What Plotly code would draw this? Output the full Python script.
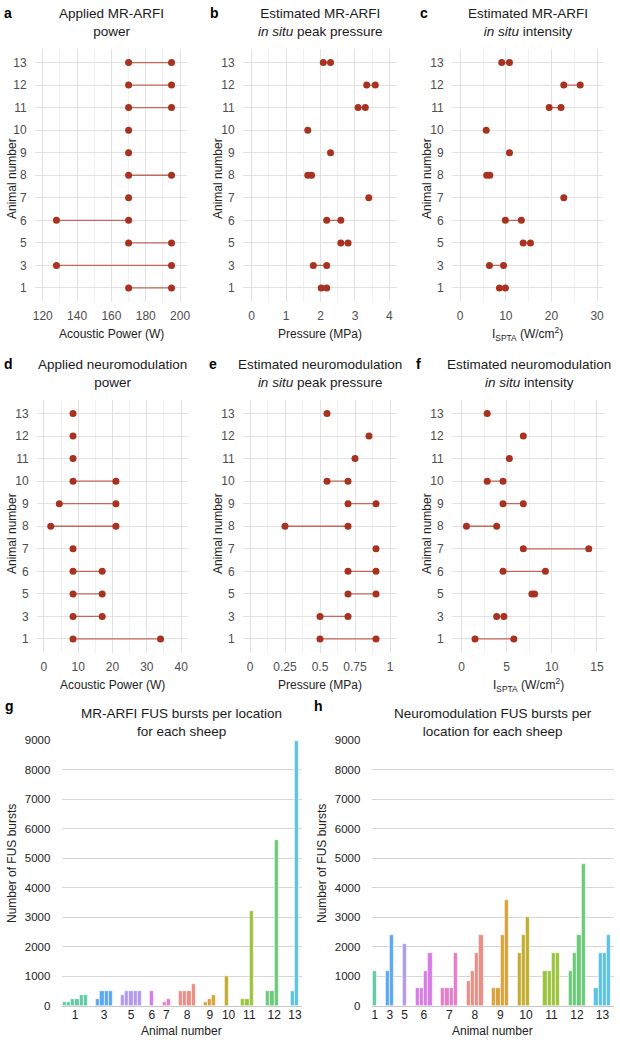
import plotly.graph_objects as go

W, H = 620, 1040
FONT = "Liberation Sans, Arial, Helvetica, sans-serif"

animals = ["1", "3", "5", "6", "7", "8", "9", "10", "11", "12", "13"]

# ---- panels a-f: per-animal values (one or two levels) ----
arfi_power = [[170, 195], [128, 195], [170, 195], [128, 170], [170], [170, 195],
              [170], [170], [170, 195], [170, 195], [170, 195]]
arfi_pressure = [[2.02, 2.18], [1.79, 2.18], [2.59, 2.80], [2.18, 2.59], [3.40], [1.63, 1.74],
                 [2.29], [1.63], [3.09, 3.30], [3.34, 3.59], [2.08, 2.29]]
arfi_intensity = [[8.6, 9.9], [6.4, 9.5], [13.8, 15.4], [9.9, 13.4], [22.7], [5.8, 6.5],
                  [10.8], [5.7], [19.5, 22.1], [22.7, 26.3], [9.1, 10.8]]
neuro_power = [[8.5, 34], [8.5, 17], [8.5, 17], [8.5, 17], [8.5], [2, 21],
               [4.5, 21], [8.5, 21], [8.5], [8.5], [8.5]]
neuro_pressure = [[0.5, 0.9], [0.5, 0.7], [0.7, 0.9], [0.7, 0.9], [0.9], [0.25, 0.7],
                  [0.7, 0.9], [0.55, 0.7], [0.75], [0.85], [0.55]]
neuro_intensity = [[1.5, 5.8], [3.9, 4.7], [7.8, 8.1], [4.6, 9.3], [6.85, 14.1], [0.55, 3.9],
                   [4.6, 6.85], [2.85, 4.6], [5.3], [6.85], [2.85]]

# tick labels
ticks_a = [120, 140, 160, 180, 200]
ticks_b = [0, 1, 2, 3, 4]
ticks_c = [0, 10, 20, 30]
ticks_d = [0, 10, 20, 30, 40]
ticks_e = [0, 0.25, 0.5, 0.75, 1]
ticks_e_text = ["0", "0.25", "0.5", "0.75", "1"]
ticks_f = [0, 5, 10, 15]
ticks_bars = [0, 1000, 2000, 3000, 4000, 5000, 6000, 7000, 8000, 9000]

# ---- panels g-h: bursts per location for each sheep ----
arfi_bursts = [[125, 125, 250, 250, 375, 375], [250, 500, 500, 500], [375, 500, 500, 500, 500],
               [500], [125, 250], [500, 500, 500, 750], [125, 250, 375], [1000, 0],
               [250, 250, 3200, 0], [500, 500, 5625, 0], [500, 8960]]
neuro_bursts = [[1200], [1200, 2400], [2100], [600, 600, 1200, 1800], [600, 600, 600, 1800],
                [840, 1200, 1800, 2400], [600, 600, 2400, 3600], [1800, 2400, 3000, 0],
                [1200, 1200, 1800, 1800], [1200, 1800, 2400, 4800], [600, 1800, 1800, 2400]]

bar_colors = ["#63c9a6", "#5aa9f2", "#b39af0", "#d67ee6", "#e77cc9", "#e98f86",
              "#d9a33c", "#c3ad33", "#9cc43f", "#6dca7c", "#5cc3e3"]

PT = "#a8321f"
LN = "#c0685a"
GRID = "#e2e2e2"
GRID_MINOR = "#f0f0f0"
TICK = "#4d4d4d"


def px(x):
    return x / W


def py(y):
    return 1 - y / H


fig = go.Figure()
annotations = []
layout = {}

scatter_panels = [
    dict(data=arfi_power, letter="a", title="Applied MR-ARFI<br>power", xt="Acoustic Power (W)",
         box=(35, 187, 49, 301.5), rng=[115.5, 204], tv=ticks_a, tt=None, minor=10, lx=8, yx=12, yc=179),
    dict(data=arfi_pressure, letter="b", title="Estimated MR-ARFI<br><i>in situ</i> peak pressure",
         xt="Pressure (MPa)", box=(243, 397, 49, 301.5), rng=[-0.25, 4.22], tv=ticks_b, tt=None,
         minor=0.5, lx=214, yx=218, yc=179),
    dict(data=arfi_intensity, letter="c", title="Estimated MR-ARFI<br><i>in situ</i> intensity",
         xt="I<sub>SPTA</sub> (W/cm<sup>2</sup>)", box=(452, 603, 49, 301.5), rng=[-1.8, 31.3],
         tv=ticks_c, tt=None, minor=5, lx=424, yx=427, yc=179),
    dict(data=neuro_power, letter="d", title="Applied neuromodulation<br>power", xt="Acoustic Power (W)",
         box=(37, 188, 400, 652.5), rng=[-2, 42], tv=ticks_d, tt=None, minor=5, lx=8, yx=12, yc=534),
    dict(data=neuro_pressure, letter="e", title="Estimated neuromodulation<br><i>in situ</i> peak pressure",
         xt="Pressure (MPa)", box=(243, 397, 400, 652.5), rng=[-0.05, 1.05], tv=ticks_e, tt=ticks_e_text,
         minor=0.125, lx=213, yx=218, yc=534),
    dict(data=neuro_intensity, letter="f", title="Estimated neuromodulation<br><i>in situ</i> intensity",
         xt="I<sub>SPTA</sub> (W/cm<sup>2</sup>)", box=(452, 605, 400, 652.5), rng=[-1.05, 15.9],
         tv=ticks_f, tt=None, minor=2.5, lx=418, yx=427, yc=534),
]

for i, p in enumerate(scatter_panels):
    n = i + 1
    xa = "x" if n == 1 else f"x{n}"
    ya = "y" if n == 1 else f"y{n}"
    x0, x1, y0, y1 = p["box"]
    # connecting segments
    lx, ly = [], []
    for a, vals in zip(animals, p["data"]):
        lx += [min(vals), max(vals), None]
        ly += [a, a, None]
    fig.add_trace(go.Scatter(x=lx, y=ly, mode="lines", line=dict(color=LN, width=1.3),
                             xaxis=xa, yaxis=ya, hoverinfo="skip", showlegend=False))
    sx, sy = [], []
    for a, vals in zip(animals, p["data"]):
        for v in vals:
            sx.append(v)
            sy.append(a)
    fig.add_trace(go.Scatter(x=sx, y=sy, mode="markers", marker=dict(color=PT, size=7),
                             xaxis=xa, yaxis=ya, showlegend=False))
    xkey = "xaxis" if n == 1 else f"xaxis{n}"
    ykey = "yaxis" if n == 1 else f"yaxis{n}"
    xax = dict(domain=[px(x0), px(x1)], anchor=ya, range=p["rng"], tickmode="array", tickvals=p["tv"],
               showgrid=True, gridcolor=GRID, gridwidth=1, zeroline=False, showline=False, automargin=False,
               tickfont=dict(size=12, color=TICK, family=FONT), ticks="outside", ticklen=3,
               tickcolor="rgba(0,0,0,0)",
               minor=dict(dtick=p["minor"], tick0=0, showgrid=True, gridcolor=GRID_MINOR, gridwidth=1))
    if p["tt"] is not None:
        xax["ticktext"] = p["tt"]
    layout[xkey] = xax
    layout[ykey] = dict(domain=[py(y1), py(y0)], anchor=xa, type="category", categoryorder="array",
                        categoryarray=animals, range=[-0.6, 10.6], showgrid=True, gridcolor=GRID,
                        gridwidth=1, zeroline=False, showline=False, automargin=False,
                        tickfont=dict(size=12, color=TICK, family=FONT), ticks="outside", ticklen=5,
                        tickcolor="rgba(0,0,0,0)")
    cx = (x0 + x1) / 2
    annotations.append(dict(x=px(cx), y=py(y0 - 27), xref="paper", yref="paper", text=p["title"],
                            showarrow=False, xanchor="center", yanchor="middle",
                            font=dict(size=13.5, color="#1a1a1a", family=FONT)))
    annotations.append(dict(x=px(p["lx"]), y=py(y0 - 36), xref="paper", yref="paper",
                            text="<b>" + p["letter"] + "</b>", showarrow=False, xanchor="center",
                            yanchor="middle", font=dict(size=14, color="black", family=FONT)))
    annotations.append(dict(x=px(cx), y=py(y1 + 32), xref="paper", yref="paper", text=p["xt"],
                            showarrow=False, xanchor="center", yanchor="middle",
                            font=dict(size=12, color="#222", family=FONT)))
    annotations.append(dict(x=px(p["yx"]), y=py(p["yc"]), xref="paper", yref="paper", text="Animal number",
                            showarrow=False, xanchor="center", yanchor="middle", textangle=-90,
                            font=dict(size=12, color="#222", family=FONT)))

# ---- bar panels ----
bar_panels = [
    dict(data=arfi_bursts, letter="g", title="MR-ARFI FUS bursts per location<br>for each sheep",
         box=(61.7, 302, 740, 1006), lx=9, yx=12, gap=2),
    dict(data=neuro_bursts, letter="h", title="Neuromodulation FUS bursts per<br>location for each sheep",
         box=(371.7, 614, 740, 1006), lx=318, yx=322, gap=2),
]

for j, p in enumerate(bar_panels):
    n = 7 + j
    xa, ya = f"x{n}", f"y{n}"
    x0, x1, y0, y1 = p["box"]
    pos = 0
    centers = []
    for k, vals in enumerate(p["data"]):
        xs = list(range(pos, pos + len(vals)))
        centers.append((xs[0] + xs[-1]) / 2)
        fig.add_trace(go.Bar(x=xs, y=vals, width=1, marker=dict(color=bar_colors[k],
                                                                line=dict(color="white", width=0.6)),
                             xaxis=xa, yaxis=ya, showlegend=False))
        pos += len(vals) + p["gap"]
    last = pos - p["gap"] - 1
    layout[f"xaxis{n}"] = dict(domain=[px(x0), px(x1)], anchor=ya, range=[-0.75, last + 1.2],
                               tickmode="array", tickvals=centers, ticktext=animals, showgrid=False,
                               zeroline=False, showline=False, ticks="", automargin=False,
                               tickfont=dict(size=12, color="#222", family=FONT))
    layout[f"yaxis{n}"] = dict(domain=[py(y1), py(y0)], anchor=xa, range=[0, 9000], tickmode="array",
                               tickvals=ticks_bars, showgrid=True, gridcolor="#d6d6d6", gridwidth=1,
                               zeroline=True, zerolinecolor="#c8c8c8", zerolinewidth=1, showline=False,
                               ticks="outside", ticklen=8, tickcolor="rgba(0,0,0,0)", automargin=False,
                               tickfont=dict(size=11.5, color="#222", family=FONT))
    cx = (x0 + x1) / 2
    annotations.append(dict(x=px(cx), y=py(722), xref="paper", yref="paper", text=p["title"],
                            showarrow=False, xanchor="center", yanchor="middle",
                            font=dict(size=13.5, color="#1a1a1a", family=FONT)))
    annotations.append(dict(x=px(p["lx"]), y=py(706), xref="paper", yref="paper",
                            text="<b>" + p["letter"] + "</b>", showarrow=False, xanchor="center",
                            yanchor="middle", font=dict(size=14, color="black", family=FONT)))
    annotations.append(dict(x=px(cx), y=py(1031), xref="paper", yref="paper", text="Animal number",
                            showarrow=False, xanchor="center", yanchor="middle",
                            font=dict(size=12, color="#222", family=FONT)))
    annotations.append(dict(x=px(p["yx"]), y=py(864), xref="paper", yref="paper",
                            text="Number of FUS bursts", showarrow=False, xanchor="center",
                            yanchor="middle", textangle=-90, font=dict(size=12, color="#222", family=FONT)))

fig.update_layout(width=W, height=H, margin=dict(l=0, r=0, t=0, b=0, autoexpand=False),
                  paper_bgcolor="white", plot_bgcolor="white", font=dict(family=FONT),
                  annotations=annotations, barmode="overlay", bargap=0, **layout)

fig.write_html("out.html", config={"displayModeBar": False},
               post_script="document.body.style.margin='0px';")
